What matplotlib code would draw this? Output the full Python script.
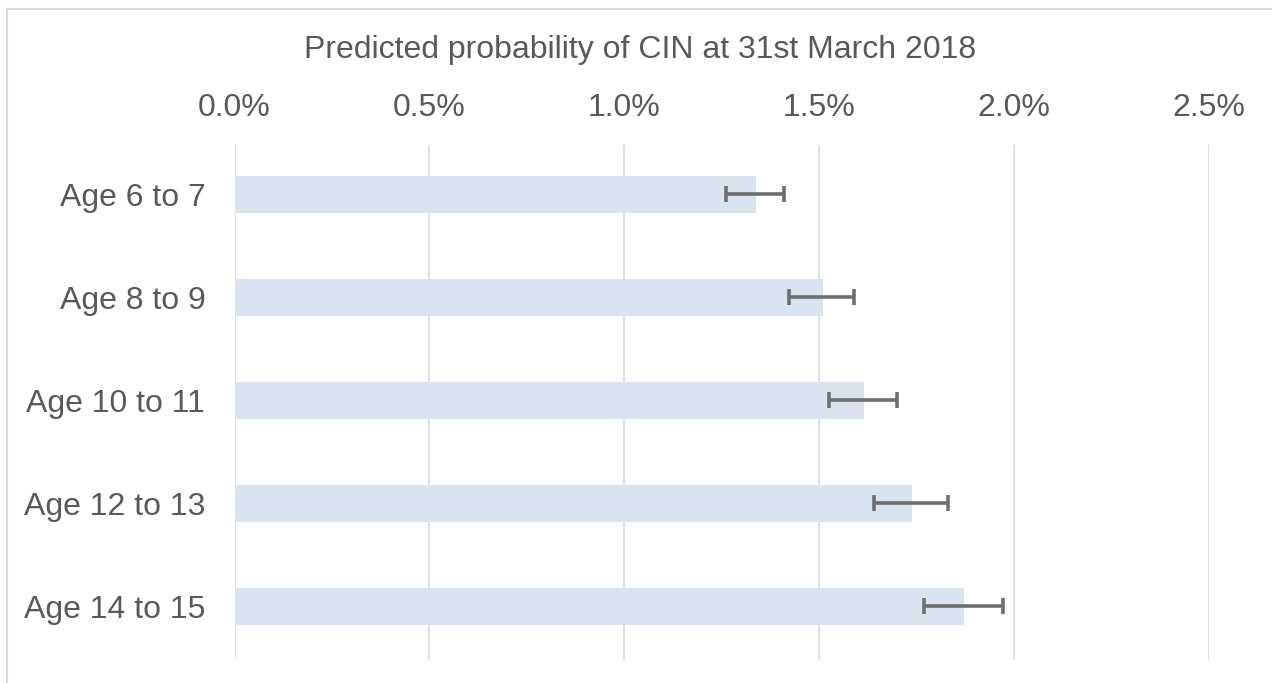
import matplotlib.pyplot as plt
from matplotlib.patches import Rectangle
from matplotlib.ticker import FuncFormatter

plt.rcParams['font.family'] = ['Liberation Sans', 'DejaVu Sans']

# predicted probability (%) with confidence interval
ages = ["Age 6 to 7", "Age 8 to 9", "Age 10 to 11", "Age 12 to 13", "Age 14 to 15"]
prob = [1.339, 1.510, 1.617, 1.740, 1.873]
ci_low = [1.262, 1.424, 1.526, 1.642, 1.770]
ci_high = [1.410, 1.590, 1.701, 1.832, 1.972]
xticks = [0.0, 0.5, 1.0, 1.5, 2.0, 2.5]

text_col = '#595959'
grid_col = '#D9D9D9'

fig = plt.figure(figsize=(12.72, 6.83), dpi=100)
ax = fig.add_axes([234.5 / 1272, 1 - 660 / 683, 974 / 1272, 515 / 683])

ypos = list(range(len(ages)))
err = [[p - lo for p, lo in zip(prob, ci_low)], [hi - p for p, hi in zip(prob, ci_high)]]
ax.barh(ypos, prob, height=0.36, color='#DAE3F0', zorder=2)
ax.errorbar(prob, ypos, xerr=err, fmt='none', ecolor='#6F6F6F', elinewidth=2.6,
            capsize=6, capthick=2.6, zorder=3)

ax.set_xlim(0, 2.5)
ax.set_ylim(4.52, -0.48)
ax.set_xticks(xticks)
ax.xaxis.set_major_formatter(FuncFormatter(lambda v, p: f"{v:.1f}%"))
ax.xaxis.tick_top()
ax.set_yticks(ypos)
ax.set_yticklabels(ages)
ax.tick_params(axis='x', length=0, pad=16, labelsize=23, labelcolor=text_col)
ax.tick_params(axis='y', length=0, pad=21, labelsize=23, labelcolor=text_col)
ax.grid(axis='x', color='#DCDCDC', linewidth=1.3, zorder=0)
for s in ax.spines.values():
    s.set_visible(False)

fig.text(0.503, 1 - 50 / 683, "Predicted probability of CIN at 31st March 2018",
         ha='center', va='center', fontsize=23, color=text_col)

# chart border (only top and left visible in the crop)
fig.patches.append(Rectangle((7 / 1272, -0.1), 1.1, 1 - 9 / 683 + 0.1, transform=fig.transFigure,
                             fill=False, edgecolor=grid_col, linewidth=1.5))

fig.savefig('out.png', dpi=100)
